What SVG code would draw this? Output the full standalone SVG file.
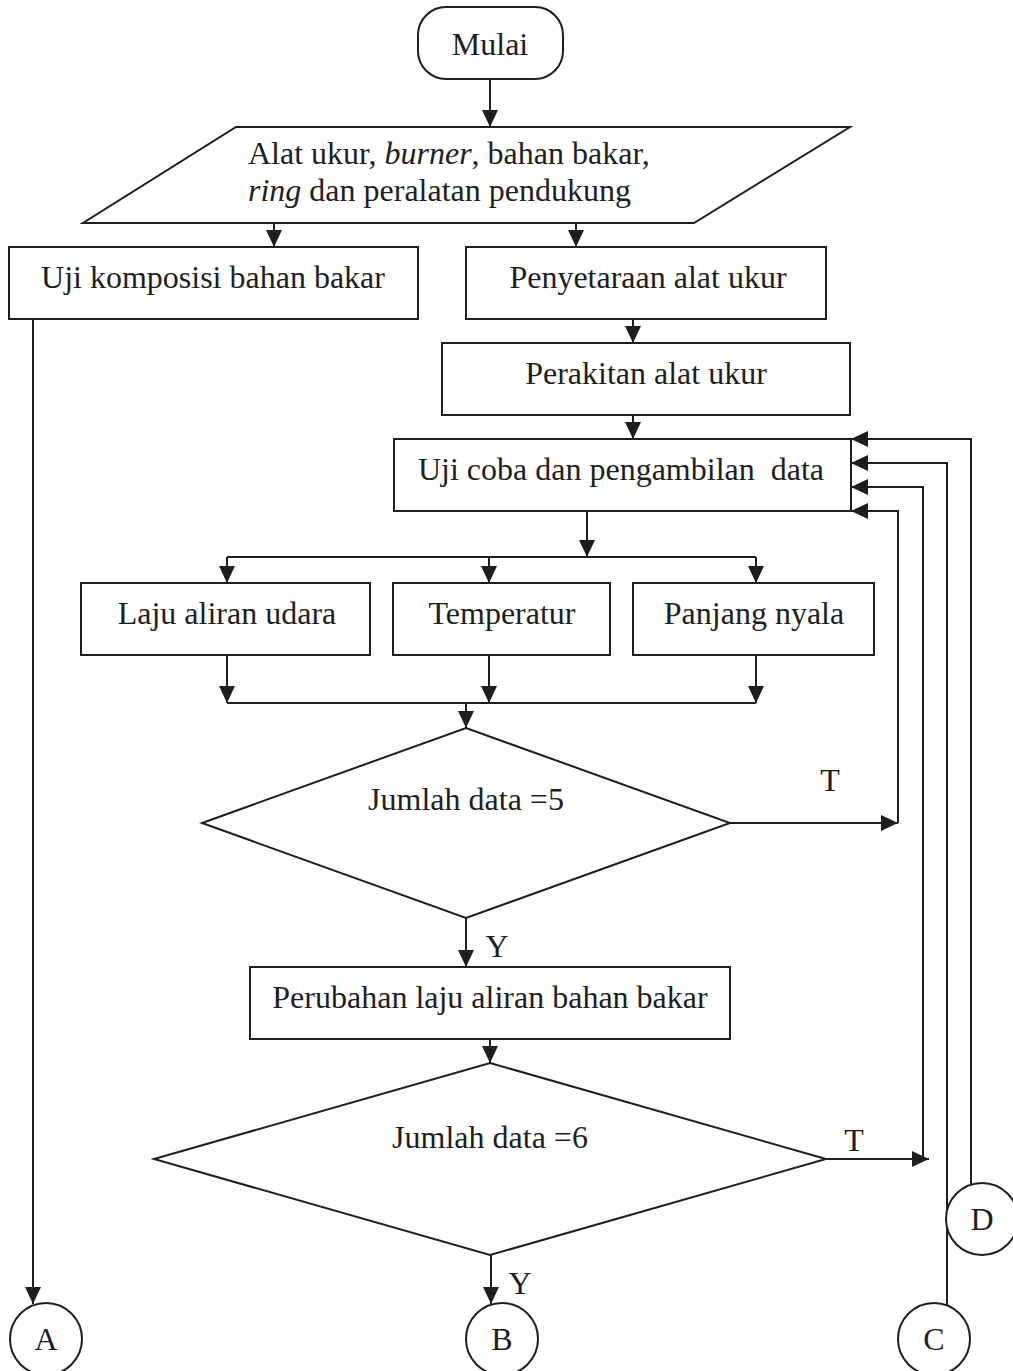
<svg xmlns="http://www.w3.org/2000/svg" width="1013" height="1371" viewBox="0 0 1013 1371">
<style>
.s{fill:#fff;stroke:#1e1e1e;stroke-width:2}
.c{fill:none;stroke:#1e1e1e;stroke-width:2}
.t{font-family:"Liberation Serif","Times New Roman",serif;font-size:32px;fill:#1e1e1e;text-anchor:middle}
.l{text-anchor:start}
</style>
<defs>
<marker id="ah" markerUnits="userSpaceOnUse" markerWidth="18" markerHeight="18" refX="17" refY="8" orient="auto">
<path d="M0,0 L17,8 L0,16 z" fill="#1e1e1e"/>
</marker>
</defs>
<rect width="1013" height="1371" fill="#fff"/>
<g id="connectors" class="c" marker-end="url(#ah)">
<path d="M490,79 V127"/>
<path d="M274,223 V247"/>
<path d="M576,223 V247"/>
<path d="M633,319 V343"/>
<path d="M633,415 V439"/>
<path d="M587,511 V557"/>
<path d="M227,557 H756" marker-end="none"/>
<path d="M227,557 V583"/>
<path d="M489,557 V583"/>
<path d="M756,557 V583"/>
<path d="M227,655 V703"/>
<path d="M489,655 V703"/>
<path d="M756,655 V703"/>
<path d="M227,703 H756" marker-end="none"/>
<path d="M466,703 V728"/>
<path d="M730,823 H898"/>
<path d="M898,823 V511 H851"/>
<path d="M466,918 V967"/>
<path d="M490,1039 V1063"/>
<path d="M826,1159 H929"/>
<path d="M923,1159 V487 H851"/>
<path d="M947,1305 V463 H851"/>
<path d="M971,1184 V439 H851"/>
<path d="M33,319 V1304"/>
<path d="M491,1255 V1304"/>
</g>
<g id="n-mulai"><rect class="s" x="418" y="7" width="145" height="72" rx="28" ry="28"/><text class="t" x="490" y="55">Mulai</text></g>
<g id="n-input"><path class="s" d="M236,127 H850 L694,223 H83 Z"/>
<text class="t l" x="248" y="164">Alat ukur, <tspan font-style="italic">burner</tspan>, bahan bakar,</text>
<text class="t l" x="248" y="201"><tspan font-style="italic">ring</tspan> dan peralatan pendukung</text></g>
<g id="n-komposisi"><rect class="s" x="9" y="247" width="409" height="72"/><text class="t" x="213" y="288">Uji komposisi bahan bakar</text></g>
<g id="n-penyetaraan"><rect class="s" x="466" y="247" width="360" height="72"/><text class="t" x="648" y="288">Penyetaraan alat ukur</text></g>
<g id="n-perakitan"><rect class="s" x="442" y="343" width="408" height="72"/><text class="t" x="646" y="384">Perakitan alat ukur</text></g>
<g id="n-ujicoba"><rect class="s" x="394" y="439" width="457" height="72"/><text class="t" x="621" y="480" style="white-space:pre">Uji coba dan pengambilan  data</text></g>
<g id="n-laju"><rect class="s" x="81" y="583" width="289" height="72"/><text class="t" x="227" y="624">Laju aliran udara</text></g>
<g id="n-temperatur"><rect class="s" x="393" y="583" width="217" height="72"/><text class="t" x="502" y="624">Temperatur</text></g>
<g id="n-panjang"><rect class="s" x="633" y="583" width="241" height="72"/><text class="t" x="754" y="624">Panjang nyala</text></g>
<g id="n-dec5"><path class="s" d="M466,728 L730,823 L466,918 L202,823 Z"/><text class="t" x="466" y="810">Jumlah data =5</text></g>
<g id="n-perubahan"><rect class="s" x="250" y="967" width="480" height="72"/><text class="t" x="490" y="1008">Perubahan laju aliran bahan bakar</text></g>
<g id="n-dec6"><path class="s" d="M490,1063 L826,1159 L490,1255 L154,1159 Z"/><text class="t" x="490" y="1148">Jumlah data =6</text></g>
<g id="labels">
<text class="t" x="830" y="791">T</text>
<text class="t" x="497" y="957">Y</text>
<text class="t" x="854" y="1151">T</text>
<text class="t" x="520" y="1294">Y</text>
</g>
<g id="n-A"><circle class="s" cx="46" cy="1339" r="36"/><text class="t" x="46" y="1350">A</text></g>
<g id="n-B"><circle class="s" cx="502" cy="1339" r="36"/><text class="t" x="502" y="1350">B</text></g>
<g id="n-C"><circle class="s" cx="934" cy="1339" r="36"/><text class="t" x="934" y="1350">C</text></g>
<g id="n-D"><circle class="s" cx="982" cy="1219" r="36"/><text class="t" x="982" y="1230">D</text></g>
</svg>
